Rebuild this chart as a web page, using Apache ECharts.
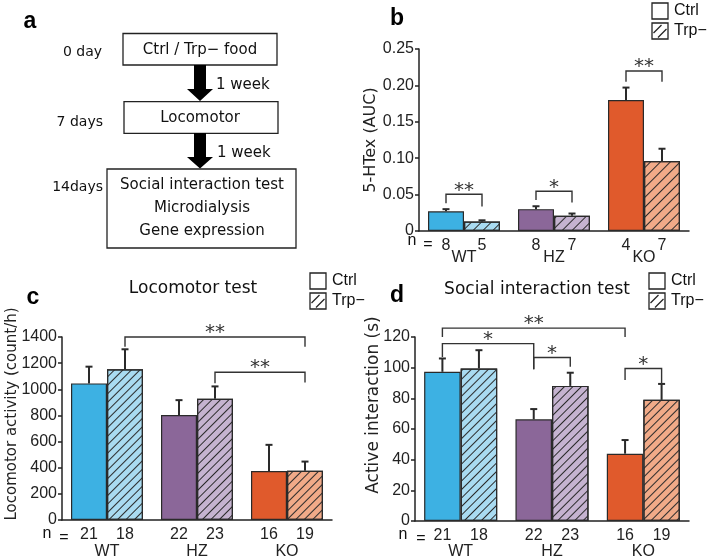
<!DOCTYPE html>
<html><head><meta charset="utf-8">
<script src="https://cdn.jsdelivr.net/npm/echarts@6/dist/echarts.min.js"></script>
<style>html,body{margin:0;padding:0;background:#fff}#main{width:709px;height:560px}</style>
</head><body><div id="main"></div>
<script>
// ---------- data ----------
const groups = ['WT', 'HZ', 'KO'];
const ctrlColors = ['#3DB1E3', '#8B6799', '#E05A2C'];
const trpColors = ['#A9DBF1', '#C5B3D0', '#F1AA88'];

// panel b: 5-HTex (AUC)
const bCtrl = [0.027, 0.030, 0.180];
const bTrp = [0.013, 0.021, 0.096];
const bCtrlErr = [0.030, 0.034, 0.197];
const bTrpErr = [0.0147, 0.024, 0.113];
const bNCtrl = [8, 8, 4];
const bNTrp = [5, 7, 7];
// bracket: [cat1, side1, cat2, side2, yTop, yLeftEnd, yRightEnd]
const bBrackets = [[0, -1, 0, 1, 0.0504, 0.038, 0.0335], [1, -1, 1, 1, 0.0545, 0.0426, 0.039], [2, -1, 2, 1, 0.2198, 0.205, 0.205]];
const bStars = ['**', '*', '**'];

// panel c: Locomotor activity
const cCtrl = [1045, 803, 374];
const cTrp = [1153, 927, 377];
const cCtrlErr = [1173, 917, 575];
const cTrpErr = [1306, 1022, 447];
const cNCtrl = [21, 22, 16];
const cNTrp = [18, 23, 19];
const cBrackets = [[0, 1, 2, 1, 1400, 1325, 1325], [1, 1, 2, 1, 1130, 1047, 1052]];
const cStars = ['**', '**'];

// panel d: Active interaction (s)
const dCtrl = [97.3, 66.3, 43.9];
const dTrp = [99.5, 88.1, 79.0];
const dCtrlErr = [106, 73, 52.8];
const dTrpErr = [111.4, 96.7, 89.4];
const dNCtrl = [21, 22, 16];
const dNTrp = [18, 23, 19];
const dBrackets = [[0, -1, 2, -1, 125.8, 120, 120], [0, -1, 1, -1, 115.7, 107, 98.9], [1, -1, 1, 1, 106.6, 98.9, 100.6], [2, -1, 2, 1, 99.5, 92, 89.4]];
const dStars = ['**', '*', '*', '*'];

// ---------- helpers ----------
const INK = '#222';
const NUMFONT = 'Liberation Sans, Arial, sans-serif';
const TXTFONT = 'DejaVu Sans, sans-serif';
const BAR_HALF = 0.2; // half of bar width as fraction of band (bar = 40%)

function hatch(gap) {
  return { symbol: 'rect', symbolSize: 1, dashArrayX: [1, 0], dashArrayY: [1, gap], rotation: -Math.PI / 4, color: '#2a2a2a' };
}

function barSeries(gi, vals, colors, ns, decal) {
  return {
    type: 'bar', xAxisIndex: gi, yAxisIndex: gi, barWidth: '40%', barGap: '0%', silent: true,
    data: vals.map((v, i) => ({ value: v, itemStyle: decal ? { color: colors[i], decal: decal } : { color: colors[i] } })),
    itemStyle: { borderColor: '#2a2a2a', borderWidth: 1.2 },
    label: { show: true, position: 'bottom', distance: 7, formatter: p => String(ns[p.dataIndex]), fontFamily: NUMFONT, fontSize: 16, color: INK }
  };
}

function errSeries(gi, ctrl, ctrlErr, trp, trpErr) {
  const data = [];
  ctrl.forEach((v, i) => data.push([i, -1, v, ctrlErr[i]]));
  trp.forEach((v, i) => data.push([i, 1, v, trpErr[i]]));
  return {
    type: 'custom', xAxisIndex: gi, yAxisIndex: gi, clip: false, silent: true, z: 5,
    encode: { x: 0, y: 3 }, data: data,
    renderItem: function (params, api) {
      const half = api.size([1, 0])[0] * BAR_HALF;
      const x = api.coord([api.value(0), 0])[0] + api.value(1) * half;
      const y0 = api.coord([0, api.value(2)])[1];
      const y1 = api.coord([0, api.value(3)])[1];
      return {
        type: 'group', children: [
          { type: 'line', shape: { x1: x, y1: y0, x2: x, y2: y1 }, style: { stroke: '#2a2a2a', lineWidth: 2 } },
          { type: 'line', shape: { x1: x - 3.5, y1: y1, x2: x + 3.5, y2: y1 }, style: { stroke: '#2a2a2a', lineWidth: 2 } }
        ]
      };
    }
  };
}

function bracketSeries(gi, brackets, stars) {
  return {
    type: 'custom', xAxisIndex: gi, yAxisIndex: gi, clip: false, silent: true, z: 6,
    encode: { x: 0, y: 4 }, data: brackets,
    renderItem: function (params, api) {
      const half = api.size([1, 0])[0] * BAR_HALF;
      const x1 = api.coord([api.value(0), 0])[0] + api.value(1) * half;
      const x2 = api.coord([api.value(2), 0])[0] + api.value(3) * half;
      const yT = api.coord([0, api.value(4)])[1];
      const yL = api.coord([0, api.value(5)])[1];
      const yR = api.coord([0, api.value(6)])[1];
      return {
        type: 'group', children: [
          { type: 'polyline', shape: { points: [[x1, yL], [x1, yT], [x2, yT], [x2, yR]] }, style: { stroke: '#333', lineWidth: 1.4, fill: null } },
          { type: 'text', style: { text: stars[params.dataIndex], x: (x1 + x2) / 2, y: yT - 4, align: 'center', verticalAlign: 'middle', fontFamily: TXTFONT, fontSize: 20, fill: '#333' } }
        ]
      };
    }
  };
}

function xAxis(gi, margin) {
  return {
    type: 'category', gridIndex: gi, data: groups,
    axisLine: { lineStyle: { color: INK, width: 1.5 } }, axisTick: { show: false },
    axisLabel: { fontFamily: NUMFONT, fontSize: 16, color: INK, margin: margin }
  };
}

function yAxis(gi, max, interval, name, nameGap, nameSize, labelSize, fmt) {
  const ax = {
    type: 'value', gridIndex: gi, min: 0, max: max, interval: interval,
    axisLine: { show: true, lineStyle: { color: INK, width: 1.5 } },
    axisTick: { show: true, length: 4, lineStyle: { color: INK, width: 1.5 } },
    axisLabel: { fontFamily: NUMFONT, fontSize: labelSize, color: INK, margin: 5, formatter: fmt || (v => String(v)) },
    splitLine: { show: false }
  };
  if (name) {
    ax.name = name; ax.nameLocation = 'middle'; ax.nameGap = nameGap;
    ax.nameTextStyle = { fontFamily: TXTFONT, fontSize: nameSize, color: INK };
  }
  return ax;
}

function txt(text, x, y, size, opts) {
  opts = opts || {};
  return {
    type: 'text', silent: true,
    style: {
      text: text, x: x, y: y, align: opts.align || 'center', verticalAlign: 'middle',
      fontFamily: opts.family || TXTFONT, fontSize: size, fontWeight: opts.weight || 'normal', fill: opts.fill || '#111'
    }
  };
}

function vtxt(text, cx, cy, size) {
  return {
    type: 'text', silent: true, x: cx, y: cy, rotation: Math.PI / 2,
    style: { text: text, x: 0, y: 0, align: 'center', verticalAlign: 'middle', fontFamily: TXTFONT, fontSize: size, fill: INK }
  };
}

function box(x, y, w, h) {
  return { type: 'rect', silent: true, shape: { x: x, y: y, width: w, height: h }, style: { fill: '#fff', stroke: INK, lineWidth: 1.3 } };
}

function arrow(yTop, yHeadStart, yTip) {
  return {
    type: 'polygon', silent: true,
    shape: { points: [[194, yTop], [206, yTop], [206, yHeadStart], [213, yHeadStart], [200, yTip], [187, yHeadStart], [194, yHeadStart]] },
    style: { fill: '#000' }
  };
}

function legend(x, y1, y2) {
  const s = 16;
  const lf = 'Liberation Sans Narrow, Liberation Sans, Arial, sans-serif';
  return [
    { type: 'rect', silent: true, shape: { x: x, y: y1, width: s, height: s }, style: { fill: '#fff', stroke: INK, lineWidth: 1.3 } },
    { type: 'rect', silent: true, shape: { x: x, y: y2, width: s, height: s }, style: { fill: '#fff', stroke: INK, lineWidth: 1.3 } },
    { type: 'line', silent: true, shape: { x1: x + 1.5, y1: y2 + 10, x2: x + 9.5, y2: y2 + 2 }, style: { stroke: INK, lineWidth: 1.2 } },
    { type: 'line', silent: true, shape: { x1: x + 6, y1: y2 + 14.5, x2: x + 14.5, y2: y2 + 6 }, style: { stroke: INK, lineWidth: 1.2 } },
    txt('Ctrl', x + 22, y1 + s / 2, 16, { align: 'left', family: lf }),
    txt('Trp\u2212', x + 22, y2 + s / 2, 16, { align: 'left', family: lf })
  ];
}

// ---------- graphics (flowchart, titles, labels) ----------
const graphics = [
  txt('a', 30, 22, 23, { weight: 'bold', family: NUMFONT, fill: '#000' }),
  txt('b', 397, 19, 23, { weight: 'bold', family: NUMFONT, fill: '#000' }),
  txt('c', 33, 298, 23, { weight: 'bold', family: NUMFONT, fill: '#000' }),
  txt('d', 397, 296, 23, { weight: 'bold', family: NUMFONT, fill: '#000' }),
  box(123, 33.5, 154, 31.5),
  txt('Ctrl / Trp\u2212 food', 200, 50, 15),
  txt('0 day', 102, 52, 14, { align: 'right' }),
  arrow(65, 89, 101),
  txt('1 week', 216, 85, 15, { align: 'left' }),
  box(124, 101.7, 154, 31.6),
  txt('Locomotor', 200, 118, 15),
  txt('7 days', 103, 122, 14, { align: 'right' }),
  arrow(133, 157, 168.5),
  txt('1 week', 217, 153, 15, { align: 'left' }),
  box(107, 169, 189, 79),
  txt('Social interaction test', 202, 185, 15),
  txt('Microdialysis', 202, 208, 15),
  txt('Gene expression', 202, 231, 15),
  txt('14days', 103, 187, 14, { align: 'right' }),
  txt('Locomotor test', 193, 289, 17),
  txt('Social interaction test', 537, 290, 17),
  vtxt('Locomotor activity (count/h)', 12, 414, 15),
  vtxt('Active interaction (s)', 374, 405, 17),
  txt('n', 412, 241, 16, { family: NUMFONT }), txt('=', 428, 245, 16, { family: NUMFONT }),
  txt('n', 47, 534, 16, { family: NUMFONT }), txt('=', 64, 538, 16, { family: NUMFONT }),
  txt('n', 403, 535, 16, { family: NUMFONT }), txt('=', 421, 539, 16, { family: NUMFONT })
].concat(legend(652, 3, 23), legend(310, 273, 293), legend(649, 273, 293));

// ---------- chart ----------
const chart = echarts.init(document.getElementById('main'), null, { renderer: 'canvas' });
chart.setOption({
  animation: false,
  backgroundColor: '#fff',
  grid: [
    { left: 419, top: 49, width: 270, height: 182 },
    { left: 62, top: 337, width: 270, height: 185 },
    { left: 415, top: 337, width: 274, height: 185 }
  ],
  xAxis: [xAxis(0, 19), xAxis(1, 24), xAxis(2, 23)],
  yAxis: [
    yAxis(0, 0.25, 0.05, '5-HTex (AUC)', 39, 16, 16, v => v === 0 ? '0' : v.toFixed(2)),
    yAxis(1, 1400, 200, null, 0, 0, 16),
    yAxis(2, 120, 20, null, 0, 0, 16)
  ],
  graphic: graphics,
  series: [
    barSeries(0, bCtrl, ctrlColors, bNCtrl, null),
    barSeries(0, bTrp, trpColors, bNTrp, hatch(6)),
    errSeries(0, bCtrl, bCtrlErr, bTrp, bTrpErr),
    bracketSeries(0, bBrackets, bStars),
    barSeries(1, cCtrl, ctrlColors, cNCtrl, null),
    barSeries(1, cTrp, trpColors, cNTrp, hatch(5)),
    errSeries(1, cCtrl, cCtrlErr, cTrp, cTrpErr),
    bracketSeries(1, cBrackets, cStars),
    barSeries(2, dCtrl, ctrlColors, dNCtrl, null),
    barSeries(2, dTrp, trpColors, dNTrp, hatch(5)),
    errSeries(2, dCtrl, dCtrlErr, dTrp, dTrpErr),
    bracketSeries(2, dBrackets, dStars)
  ]
});
</script>
</body></html>
